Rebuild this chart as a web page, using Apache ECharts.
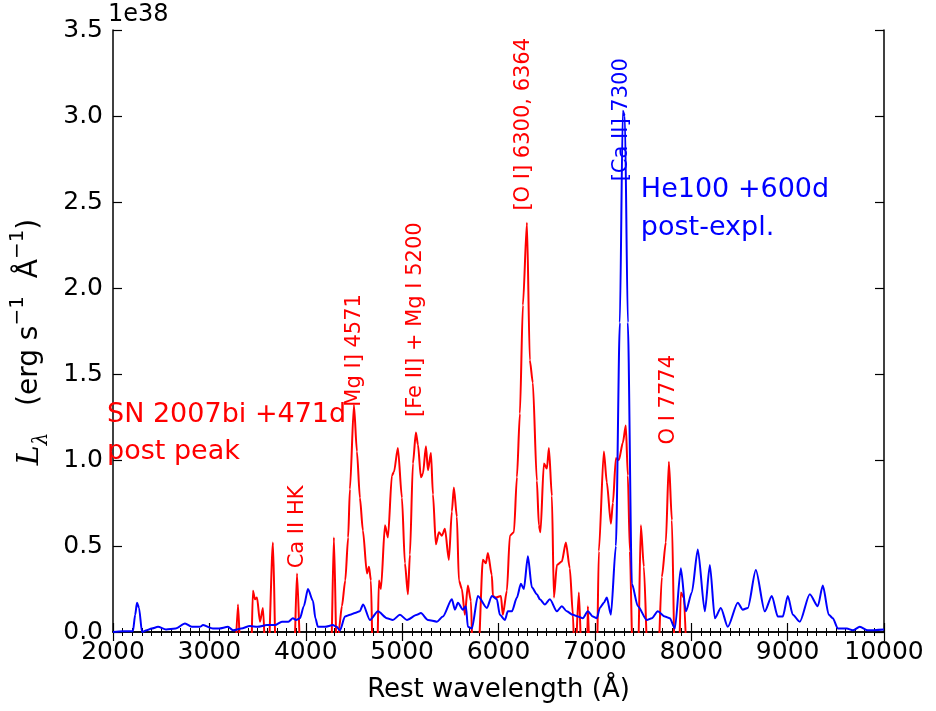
<!DOCTYPE html>
<html>
<head>
<meta charset="utf-8">
<script src="https://cdn.jsdelivr.net/npm/echarts@6/dist/echarts.min.js"></script>
<style>
  html, body { margin: 0; padding: 0; background: #fff; }
  #chart { width: 936px; height: 711px; }
</style>
</head>
<body>
<div id="chart"></div>
<script>
// SN 2007bi, +471 d past peak (units of 1e38 erg s^-1 Å^-1)
const snWave = [3266,3297,3328,3431,3452,3473,3494,3525,3556,3587,3608,3660,3691,3877,3909,3950,
  4261,4292,4324,4345,4375,4410,4440,4458,4500,4531,4562,4593,4635,4656,4676,4697,4739,4759,4780,
  4822,4853,4894,4915,4956,4998,5029,5060,5081,5112,5143,5164,5195,5216,5247,5268,5299,5320,5350,
  5382,5413,5444,5485,5516,5537,5568,5589,5620,5651,5682,5714,5734,5786,5838,5869,5890,5931,5942,
  5973,6025,6045,6087,6118,6160,6191,6222,6253,6295,6325,6356,6398,6419,6435,6471,6502,6523,6554,
  6575,6606,6657,6699,6740,6772,6792,6834,6865,6917,6927,6948,7020,7041,7093,7124,7166,7187,7218,
  7249,7290,7321,7342,7363,7394,7446,7477,7508,7550,7653,7695,7736,7768,7799,7830,7871,7892,7923,7954];
const snLum = [-0.2,0.16,-0.2,-0.2,0.24,0.19,0.20,0.06,0.14,-0.2,-0.2,0.52,-0.2,-0.2,0.34,-0.2,
  -0.2,0.55,-0.2,0.02,0.15,0.30,0.55,0.83,1.32,1.05,0.78,0.59,0.34,0.38,0.30,-0.2,-0.2,0.30,0.25,
  0.62,0.55,0.91,0.93,1.07,0.78,0.40,0.22,0.45,0.98,1.16,1.09,0.90,0.92,1.08,0.94,1.04,0.80,0.51,
  0.58,0.56,0.60,0.42,0.70,0.84,0.67,0.30,0.25,0.10,0.27,0.18,-0.2,-0.2,0.42,0.40,0.46,0.33,0.21,
  0.20,0.21,0.10,0.24,0.56,0.58,0.90,1.27,1.90,2.38,1.58,1.45,0.88,0.62,0.58,0.98,0.95,1.07,0.79,
  0.20,0.39,0.41,0.52,0.37,0.10,-0.2,0.23,-0.2,-0.2,0.15,-0.2,-0.2,0.47,1.05,0.87,0.63,0.75,1.01,
  1.00,1.10,1.20,0.91,0.47,-0.2,-0.2,0.62,0.38,-0.2,-0.2,0.32,0.52,0.99,0.65,-0.2,-0.2,0.23,0.20,-0.2];

// He100 model, +600 d post-explosion
const modelWave = [2000,2100,2207,2230,2249,2270,2301,2350,2400,2467,2550,2650,2747,2820,2902,2934,
  3037,3100,3193,3245,3330,3421,3500,3597,3680,3753,3820,3867,3900,3940,3980,4023,4075,4100,4126,
  4200,4282,4320,4355,4407,4460,4510,4560,4595,4666,4749,4842,4904,4977,5050,5154,5195,5268,5361,
  5423,5516,5548,5579,5631,5662,5682,5724,5786,5880,5931,5983,6014,6066,6097,6139,6191,6232,6263,
  6305,6346,6398,6429,6481,6533,6606,6657,6709,6772,6823,6875,6927,6979,7020,7052,7093,7124,7166,
  7218,7259,7290,7311,7342,7384,7446,7539,7591,7653,7726,7778,7830,7892,7944,8006,8068,8141,8193,
  8245,8307,8379,8483,8535,8587,8670,8763,8836,8898,8950,9002,9054,9126,9230,9313,9365,9427,9469,
  9521,9614,9676,9749,9832,10000];
const modelLum = [0,0.005,0.005,0.10,0.17,0.14,0,0.01,0.02,0.03,0.015,0.02,0.05,0.03,0.03,0.04,
  0.02,0.02,0.03,0.01,0.02,0.035,0.03,0.04,0.04,0.06,0.06,0.08,0.07,0.08,0.15,0.25,0.18,0.08,0.03,
  0.03,0.04,0.03,0.01,0.09,0.10,0.11,0.12,0.16,0.07,0.12,0.08,0.07,0.10,0.07,0.10,0.11,0.07,0.06,
  0.09,0.19,0.13,0.17,0.13,0.15,0.03,0.02,0.21,0.14,0.21,0.19,0.10,0.07,0.12,0.12,0.20,0.28,0.25,
  0.44,0.26,0.22,0.19,0.16,0.19,0.12,0.15,0.12,0.10,0.09,0.08,0.12,0.09,0.08,0.14,0.17,0.20,0.10,
  0.50,1.80,3.03,3.00,1.80,0.28,0.15,0.07,0.08,0.12,0.09,0.08,0.02,0.37,0.12,0.23,0.48,0.12,0.39,
  0.08,0.14,0.03,0.17,0.13,0.14,0.36,0.12,0.21,0.09,0.09,0.21,0.10,0.06,0.22,0.15,0.27,0.10,0.08,
  0.02,0.02,0.01,0.03,0.01,0.015];

// Line identifications: label text, wavelength, height of the label's foot
const lineLabels = ['Ca II HK', 'Mg I] 4571', '[Fe II] + Mg I 5200', '[O I] 6300, 6364', '[Ca II] 7300', 'O I 7774'];
const lineWaves  = [3910, 4510, 5143, 6263, 7275, 7768];
const lineFeet   = [0.37, 1.31, 1.25, 2.45, 2.62, 1.09];
const lineOwner  = ['sn', 'sn', 'sn', 'sn', 'model', 'sn'];

// Spectrum captions
const snCaption = 'SN 2007bi +471d\npost peak';
const modelCaption = 'He100 +600d\npost-expl.';

const RED = '#ff0000';
const BLUE = '#0000ff';
const FONT = 'DejaVu Sans';

function pairs(xs, ys) {
  const n = Math.min(xs.length, ys.length);
  const out = [];
  for (let i = 0; i < n; i++) out.push([xs[i], ys[i]]);
  return out;
}

const chart = echarts.init(document.getElementById('chart'), null, { renderer: 'canvas' });

const tickCommon = {
  axisLine: { show: true, lineStyle: { color: '#000', width: 1.5 } },
  splitLine: { show: false }
};

chart.setOption({
  animation: false,
  backgroundColor: '#fff',
  grid: { left: 113, top: 30, width: 771, height: 602, containLabel: false },
  xAxis: [
    Object.assign({
      type: 'value', min: 2000, max: 10000, interval: 1000, position: 'bottom',
      axisTick: { show: true, inside: true, length: 9, lineStyle: { color: '#000', width: 1.2 } },
      minorTick: { show: true, splitNumber: 10, length: 4, lineStyle: { color: '#000', width: 1 } },
      axisLabel: { color: '#000', fontFamily: FONT, fontSize: 25, margin: 8, formatter: v => String(v) },
      name: 'Rest wavelength (Å)', nameLocation: 'middle', nameGap: 45,
      nameTextStyle: { color: '#000', fontFamily: FONT, fontSize: 26 }
    }, tickCommon),
    Object.assign({
      type: 'value', min: 2000, max: 10000, interval: 1000, position: 'top',
      axisTick: { show: true, inside: true, length: 9, lineStyle: { color: '#000', width: 1.2 } },
      minorTick: { show: true, splitNumber: 10, length: 4, lineStyle: { color: '#000', width: 1 } },
      axisLabel: { show: false }
    }, tickCommon)
  ],
  yAxis: [
    Object.assign({
      type: 'value', min: 0, max: 3.5, interval: 0.5, position: 'left',
      axisTick: { show: true, inside: true, length: 9, lineStyle: { color: '#000', width: 1.2 } },
      axisLabel: { color: '#000', fontFamily: FONT, fontSize: 25, margin: 10, formatter: v => v.toFixed(1) }
    }, tickCommon),
    Object.assign({
      type: 'value', min: 0, max: 3.5, interval: 0.5, position: 'right',
      axisTick: { show: true, inside: true, length: 9, lineStyle: { color: '#000', width: 1.2 } },
      axisLabel: { show: false }
    }, tickCommon)
  ],
  series: [
    {
      name: 'SN 2007bi', type: 'line', xAxisIndex: 0, yAxisIndex: 0,
      data: pairs(snWave, snLum), showSymbol: false, clip: true,
      smooth: 0.25, smoothMonotone: 'x',
      lineStyle: { color: RED, width: 2 }, z: 2
    },
    {
      name: 'He100', type: 'line', xAxisIndex: 0, yAxisIndex: 0,
      data: pairs(modelWave, modelLum), showSymbol: false, clip: true,
      smooth: 0.25, smoothMonotone: 'x',
      lineStyle: { color: BLUE, width: 2 }, z: 3
    }
  ]
});

// Text overlays, anchored to data coordinates
function toPx(x, y) { return chart.convertToPixel({ gridIndex: 0 }, [x, y]); }

const graphics = [];

lineLabels.forEach((txt, i) => {
  const p = toPx(lineWaves[i], lineFeet[i]);
  graphics.push({
    type: 'text', x: p[0], y: p[1], rotation: Math.PI / 2, z: 10,
    style: {
      text: txt, fill: lineOwner[i] === 'model' ? BLUE : RED,
      font: '21px "DejaVu Sans"', textAlign: 'left', textVerticalAlign: 'middle'
    }
  });
});

const snPos = toPx(1938, 1.37);
graphics.push({
  type: 'text', x: snPos[0], y: snPos[1], z: 10,
  style: { text: snCaption, fill: RED, font: '27px "DejaVu Sans"', lineHeight: 37,
           textAlign: 'left', textVerticalAlign: 'top' }
});
const mPos = toPx(7477, 2.68);
graphics.push({
  type: 'text', x: mPos[0], y: mPos[1], z: 10,
  style: { text: modelCaption, fill: BLUE, font: '27px "DejaVu Sans"', lineHeight: 38,
           textAlign: 'left', textVerticalAlign: 'top' }
});

// Offset factor printed above the y axis
graphics.push({
  type: 'text', x: 108, y: 15, z: 10,
  style: { text: '1e38', fill: '#000', font: '24px "DejaVu Sans"', textAlign: 'left', textVerticalAlign: 'middle' }
});

// Y axis title with math-style subscript and superscripts
graphics.push({
  type: 'text', x: 30, y: 342, rotation: Math.PI / 2, z: 10,
  style: {
    text: '{l|L}{sub|λ}{n|   (erg s}{sup|−1}{n|  Å}{sup|−1}{n|)}',
    textAlign: 'center', textVerticalAlign: 'middle',
    rich: {
      l: { fontFamily: 'DejaVu Serif', fontStyle: 'italic', fontSize: 30, fill: '#000', lineHeight: 44, verticalAlign: 'middle' },
      sub: { fontFamily: 'DejaVu Serif', fontStyle: 'italic', fontSize: 20, fill: '#000', lineHeight: 44, verticalAlign: 'bottom' },
      n: { fontFamily: FONT, fontSize: 28, fill: '#000', lineHeight: 44, verticalAlign: 'middle' },
      sup: { fontFamily: FONT, fontSize: 20, fill: '#000', lineHeight: 44, verticalAlign: 'top' }
    }
  }
});

chart.setOption({ graphic: graphics });
</script>
</body>
</html>
